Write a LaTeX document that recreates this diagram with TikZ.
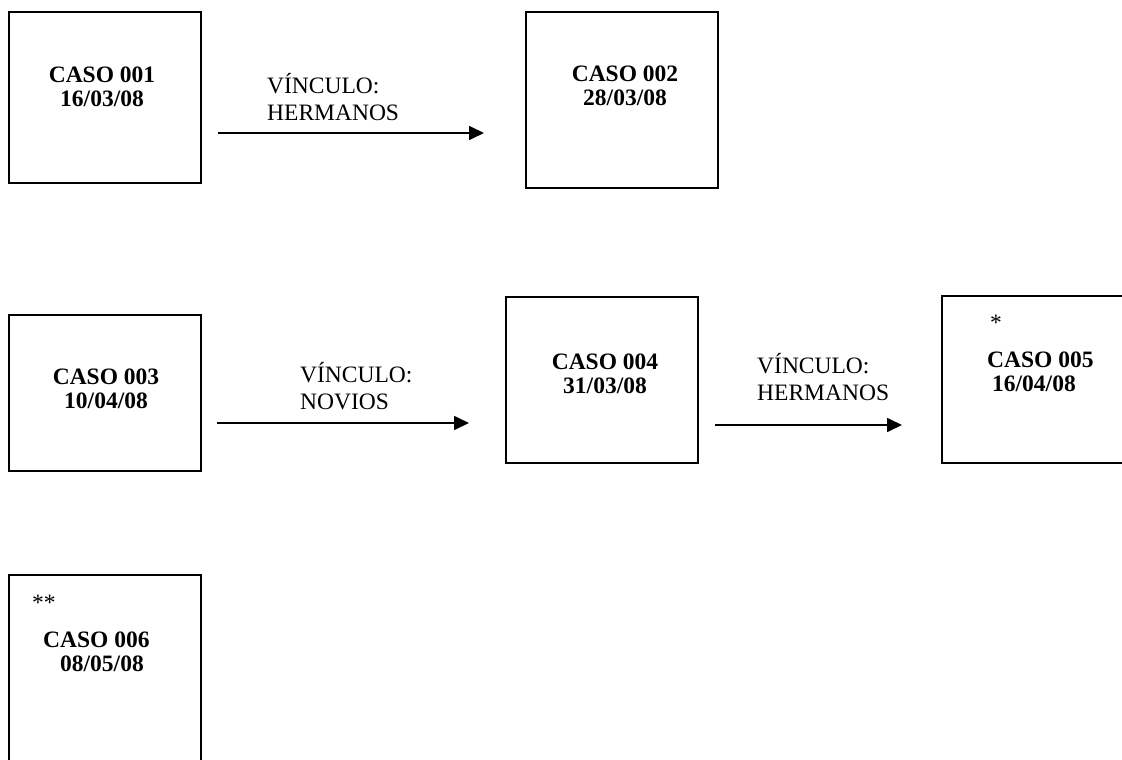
\documentclass[tikz,border=0pt]{standalone}
\usepackage{fontspec}
\setmainfont{Liberation Serif}
\usetikzlibrary{arrows.meta}

\begin{document}
\begin{tikzpicture}
  [x=1pt,y=-1pt,
   every node/.style={font=\fontsize{23.5}{27}\selectfont},
   caso/.style={draw,rectangle,line width=1.4pt,minimum width=192pt,inner sep=0pt},
   fecha/.style={font=\fontsize{23.5}{24.5}\selectfont\bfseries,align=center,inner sep=0pt},
   vinculo/.style={align=left,anchor=west,inner sep=0pt},
   flecha/.style={-{Triangle[length=15pt,width=14pt]},line width=1.7pt}]
  \useasboundingbox (0,0) rectangle (1122,760);
  \clip (0,0) rectangle (1122,760);

  \node[caso,minimum height=171pt] (c1) at (105,97.5) {};
  \node[caso,minimum height=176pt] (c2) at (622,100) {};
  \node[caso,minimum height=156pt] (c3) at (105,393) {};
  \node[caso,minimum height=166pt] (c4) at (602,380) {};
  \node[caso,minimum height=167pt] (c5) at (1038,379.5) {};
  \node[caso,minimum height=200pt] (c6) at (105,675) {};

  \node[fecha] (t1) at (102,87) {CASO 001\\16/03/08};
  \node[fecha] (t2) at (625,86) {CASO 002\\28/03/08};
  \node[fecha] (t3) at (106,389) {CASO 003\\10/04/08};
  \node[fecha] (t4) at (605,374) {CASO 004\\31/03/08};
  \node[fecha,align=left,anchor=north west] (t5) at (987,315)
    {\mdseries\hspace*{3pt}*\\[12pt]CASO 005\\\hspace*{5pt}16/04/08};
  \node[fecha,align=left,anchor=north west] (t6) at (32,595)
    {\mdseries**\\[12pt]\hspace*{11pt}CASO 006\\\hspace*{28pt}08/05/08};

  \node[vinculo] (v1) at (267,97) {VÍNCULO:\\HERMANOS};
  \node[vinculo] (v2) at (300,386) {VÍNCULO:\\NOVIOS};
  \node[vinculo] (v3) at (757,377) {VÍNCULO:\\HERMANOS};

  \coordinate (a1) at (218,133);
  \coordinate (b1) at (484,133);
  \coordinate (a2) at (217,423);
  \coordinate (b2) at (469,423);
  \coordinate (a3) at (715,425);
  \coordinate (b3) at (902,425);

  \foreach \from/\to in {a1/b1,a2/b2,a3/b3}
    \draw[flecha] (\from) -- (\to);

\end{tikzpicture}
\end{document}
